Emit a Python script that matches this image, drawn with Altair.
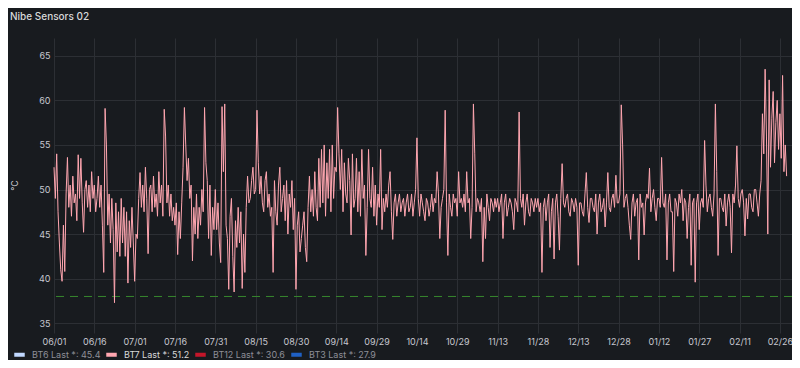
import altair as alt
import pandas as pd

# ---- data (two samples per day, starting 2023-06-01) ----
start_date = "2023-06-01"
bt7_values = [
    # 06/01 - 06/15
    52.5, 49.0, 54.0, 47.5, 44.0, 41.0, 39.7, 46.0, 40.8, 49.5, 53.6, 48.0, 50.5, 47.0, 51.5,
    48.5, 49.5, 46.5, 53.9, 49.0, 53.5, 48.5, 45.2, 50.0, 51.0, 48.0, 50.5, 47.5, 52.0, 49.0,
    # 06/16 - 06/30
    50.5, 47.5, 49.0, 51.5, 48.0, 50.5, 46.0, 40.7, 59.1, 55.0, 46.0, 49.5, 44.0, 49.0, 45.5,
    37.3, 48.5, 43.0, 47.5, 42.5, 49.0, 44.0, 48.0, 42.5, 47.5, 39.5, 46.5, 43.5, 48.0, 44.0,
    # 07/01 - 07/15
    39.7, 45.0, 44.5, 49.0, 51.9, 48.0, 50.5, 47.5, 52.5, 49.0, 42.8, 50.0, 50.5, 47.5, 51.5,
    48.0, 49.5, 47.0, 52.0, 48.5, 50.5, 47.0, 59.0, 56.0, 48.5, 50.5, 47.0, 49.5, 46.5, 48.0,
    # 07/16 - 07/30
    46.0, 48.5, 42.7, 47.5, 44.5, 48.5, 52.5, 59.2, 55.0, 51.0, 53.5, 49.0, 50.5, 42.0, 48.0,
    45.0, 49.5, 44.5, 48.0, 46.0, 50.0, 47.5, 59.2, 53.0, 51.0, 44.5, 50.5, 42.6, 48.0, 45.5,
    # 07/31 - 08/14
    50.0, 45.5, 48.5, 44.0, 41.8, 59.3, 52.0, 59.6, 46.0, 44.5, 38.8, 47.0, 49.0, 42.5, 38.5,
    46.5, 43.5, 48.0, 44.0, 47.5, 38.9, 45.0, 40.7, 48.0, 51.5, 48.5, 49.0, 51.0, 52.5, 49.5,
    # 08/15 - 08/29
    50.0, 58.9, 53.0, 49.5, 51.5, 48.5, 47.5, 51.0, 52.0, 48.0, 49.5, 47.0, 48.0, 40.7, 51.0,
    47.5, 46.0, 50.5, 52.5, 47.5, 49.0, 50.5, 46.5, 51.0, 45.0, 49.5, 48.0, 51.0, 45.5, 49.0,
    # 08/30 - 09/13
    38.8, 46.0, 47.5, 43.0, 44.5, 46.0, 47.5, 43.5, 41.9, 48.0, 51.5, 47.5, 50.0, 47.0, 52.0,
    48.0, 46.5, 53.5, 48.0, 54.5, 48.5, 55.0, 47.0, 53.0, 49.0, 54.5, 47.5, 55.0, 49.0, 52.5,
    # 09/14 - 09/28
    52.0, 59.2, 54.0, 50.0, 54.5, 47.5, 53.0, 49.5, 48.5, 53.5, 51.0, 44.9, 54.0, 48.0, 49.0,
    53.5, 47.5, 52.0, 47.0, 54.5, 49.0, 50.5, 42.6, 48.0, 54.5, 49.0, 48.0, 52.5, 47.0, 50.5,
    # 09/29 - 10/13
    46.0, 49.5, 48.0, 54.5, 45.5, 49.0, 47.5, 49.5, 48.0, 50.5, 52.0, 47.5, 44.4, 48.5, 49.5,
    47.0, 48.5, 49.5, 47.5, 48.5, 49.0, 47.0, 48.5, 49.5, 47.5, 48.0, 49.5, 47.0, 48.5, 50.0,
    # 10/14 - 10/28
    55.8, 49.0, 47.0, 49.5, 48.5, 47.5, 46.5, 49.0, 48.5, 47.0, 48.0, 49.5, 47.5, 49.0, 48.5,
    52.0, 49.5, 44.5, 48.0, 49.0, 50.0, 58.9, 48.5, 42.6, 49.5, 48.0, 47.0, 49.5, 48.5, 49.0,
    # 10/29 - 11/12
    47.0, 52.0, 48.5, 49.0, 48.0, 49.5, 47.5, 52.0, 48.5, 49.0, 44.5, 48.0, 59.6, 54.0, 47.5,
    49.0, 48.5, 47.5, 49.0, 41.9, 48.0, 44.5, 49.5, 48.0, 46.5, 49.0, 48.5, 47.5, 49.0, 48.0,
    # 11/13 - 11/27
    49.0, 47.5, 48.5, 49.5, 44.5, 48.5, 49.5, 47.0, 48.0, 49.0, 48.5, 47.5, 45.5, 49.0, 48.5,
    47.5, 58.7, 49.0, 48.0, 49.5, 46.0, 48.5, 49.5, 47.5, 47.0, 49.0, 48.5, 47.5, 49.0, 48.0,
    # 11/28 - 12/12
    49.0, 47.5, 48.5, 40.7, 48.0, 49.0, 46.5, 48.5, 49.5, 43.5, 47.5, 49.0, 42.2, 48.5, 49.5,
    47.0, 43.2, 49.0, 52.9, 48.5, 48.0, 49.0, 49.5, 47.5, 47.0, 49.0, 48.5, 47.5, 49.0, 48.0,
    # 12/13 - 12/27
    41.5, 48.5, 48.5, 47.5, 47.0, 49.5, 51.9, 48.0, 46.3, 49.0, 49.0, 48.0, 47.5, 49.5, 45.0,
    48.5, 49.5, 47.5, 48.0, 49.0, 45.8, 48.5, 51.9, 48.0, 47.5, 49.0, 49.5, 48.0, 51.6, 48.5,
    # 12/28 - 01/11
    48.5, 49.5, 59.5, 55.0, 48.0, 49.0, 49.5, 48.0, 46.0, 44.4, 48.5, 49.5, 47.0, 48.5, 49.0,
    42.1, 49.5, 48.0, 48.5, 44.9, 48.5, 49.5, 49.0, 52.4, 47.5, 49.0, 50.0, 48.0, 46.5, 49.0,
    # 01/12 - 01/26
    49.0, 48.0, 53.6, 48.5, 48.0, 49.5, 42.1, 48.5, 49.5, 47.5, 47.5, 40.8, 49.0, 48.5, 47.0,
    49.5, 48.5, 50.0, 46.5, 49.0, 48.5, 44.5, 48.0, 49.5, 41.5, 48.5, 49.0, 39.6, 48.5, 49.5,
    # 01/27 - 02/10
    45.5, 48.5, 49.0, 48.0, 55.5, 50.5, 47.5, 49.0, 49.5, 48.0, 47.0, 49.5, 59.6, 52.0, 42.6,
    49.0, 49.0, 48.0, 47.5, 49.5, 45.9, 48.5, 49.5, 48.0, 42.9, 49.5, 48.5, 50.5, 54.9, 49.0,
    # 02/11 - 02/28
    48.0, 49.5, 50.0, 48.5, 44.8, 49.0, 46.7, 49.5, 49.5, 48.0, 47.5, 50.0, 50.0, 48.5, 47.0,
    49.5, 51.0, 58.5, 54.0, 63.5, 56.0, 45.0, 62.3, 52.5, 58.0, 61.0, 53.0, 57.5, 60.0, 54.5,
    58.5, 53.5, 62.8, 52.0, 55.0, 51.5,
]

series_names = ["BT6", "BT7", "BT12", "BT3"]
series_last = ["45.4", "51.2", "30.6", "27.9"]
series_colors = ["#c0d8ff", "#ffa6b0", "#c4162a", "#1f60c4"]
threshold_value = [38]

x_ticks = ["2023-06-01", "2023-06-16", "2023-07-01", "2023-07-16", "2023-07-31",
           "2023-08-15", "2023-08-30", "2023-09-14", "2023-09-29", "2023-10-14",
           "2023-10-29", "2023-11-13", "2023-11-28", "2023-12-13", "2023-12-28",
           "2024-01-12", "2024-01-27", "2024-02-11", "2024-02-26"]
y_ticks = [35, 37.5, 40, 42.5, 45, 47.5, 50, 52.5, 55, 57.5, 60, 62.5, 65]

# ---- build tables ----
legend_labels = [f"{n}  Last *: {v}" for n, v in zip(series_names, series_last)]
times = pd.date_range(start_date, periods=len(bt7_values), freq="12h")
df = pd.DataFrame({
    "time": times.strftime("%Y-%m-%dT%H:%M:%S"),
    "value": bt7_values,
    "series": legend_labels[1],
})
thr_df = pd.DataFrame({"thr": threshold_value})


def dt(s, hours=0):
    t = pd.Timestamp(s)
    return alt.DateTime(year=t.year, month=t.month, date=t.day, hours=hours)


x_vals = [dt(s) for s in x_ticks]
x_domain = [dt("2023-06-01"), dt("2024-03-01", 12)]

TXT = "#c7c8d0"
GRID = "#2c2f34"
FONT = "Inter"

line = alt.Chart(df).mark_line(strokeWidth=1).encode(
    x=alt.X("time:T",
            scale=alt.Scale(domain=x_domain, nice=False),
            axis=alt.Axis(values=x_vals, format="%m/%d", title=None, grid=True,
                          gridColor=GRID, ticks=False, domain=False,
                          labelColor=TXT, labelFontSize=9, labelFont=FONT,
                          labelPadding=4, labelFlush=False, labelOverlap=False)),
    y=alt.Y("value:Q",
            scale=alt.Scale(domain=[33.9, 67.0], nice=False, zero=False),
            axis=alt.Axis(values=y_ticks, format="~g", title="°C", grid=True,
                          gridColor=GRID, ticks=False, domain=False,
                          labelColor=TXT, labelFontSize=9, labelFont=FONT,
                          labelPadding=4, titleColor=TXT, titleFont=FONT,
                          titleFontSize=9, titleFontWeight="normal",
                          titleX=-40, titleY=147, titleAngle=-90,
                          titleAlign="center", titleBaseline="middle")),
    color=alt.Color("series:N",
                    scale=alt.Scale(domain=legend_labels, range=series_colors),
                    legend=alt.Legend(title=None, orient="none", direction="horizontal",
                                      columns=4, legendX=-42, legendY=309,
                                      symbolType="stroke", symbolStrokeWidth=4,
                                      symbolSize=110, labelFontSize=9, labelFont=FONT,
                                      labelColor=alt.ExprRef("indexof(datum.label, 'BT7') === 0 ? '#d8d9da' : '#8e8f98'"),
                                      labelOffset=5, columnPadding=-5)),
)

rule = alt.Chart(thr_df).mark_rule(color="#37872d", strokeDash=[8, 6], strokeWidth=1).encode(
    y=alt.Y("thr:Q")
)

chart = alt.layer(rule, line).properties(
    width=738,
    height=295,
    background="#181b1f",
    padding={"left": 46, "top": 30, "right": 0, "bottom": 27},
    autosize=alt.AutoSizeParams(type="none"),
    title=alt.Title("Nibe Sensors 02", anchor="start", frame="group", dx=-44, offset=16,
                    fontSize=10, fontWeight=500, color="#d8d9da", font=FONT),
).configure_view(stroke=None)

chart.save("out.html", embed_options={"renderer": "svg", "actions": False})
